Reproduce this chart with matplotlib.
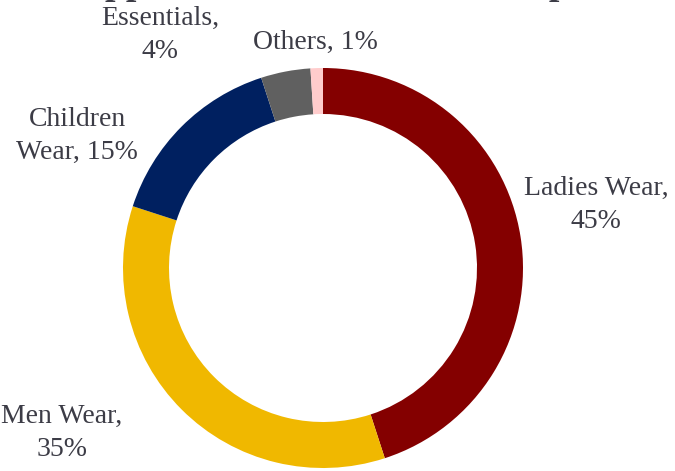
import matplotlib.pyplot as plt

# segment shares, clockwise from 12 o'clock
segments = ["Ladies Wear", "Men Wear", "Children Wear", "Essentials", "Others"]
shares = [45, 35, 15, 4, 1]
colors = ["#840000", "#F0B800", "#002060", "#606060", "#FFCCCC"]

# label text (with manual line breaks) and where each label sits, in pixels
label_text = ["Ladies Wear,\n45%", "Men Wear,\n35%", "Children\nWear, 15%",
              "Essentials,\n4%", "Others, 1%"]
label_pos = [(596, 266), (62, 38), (77, 335), (160, 436), (315, 429)]

W, H = 675, 471
fig = plt.figure(figsize=(W / 100, H / 100), dpi=100)
ax = fig.add_axes([0, 0, 1, 1])

ax.pie(shares, colors=colors, startangle=90, counterclock=False,
       center=(323, 203), radius=200,
       wedgeprops=dict(width=46, edgecolor="none"))
ax.set_xlim(0, W)
ax.set_ylim(0, H)
ax.set_aspect("equal")
ax.axis("off")

for txt, (x, y) in zip(label_text, label_pos):
    ax.text(x, y, txt, ha="center", va="center", fontsize=20,
            family="Liberation Serif", color="#3c3c46", linespacing=1.42)

# chart title, mostly above the top edge
ax.text(340, H + 15, "Apparel Sales Contribution Split", ha="center",
        va="center", fontsize=27, fontweight="bold",
        family="Liberation Serif", color="#3c3c46", clip_on=False)

fig.savefig("out.png", dpi=100)
